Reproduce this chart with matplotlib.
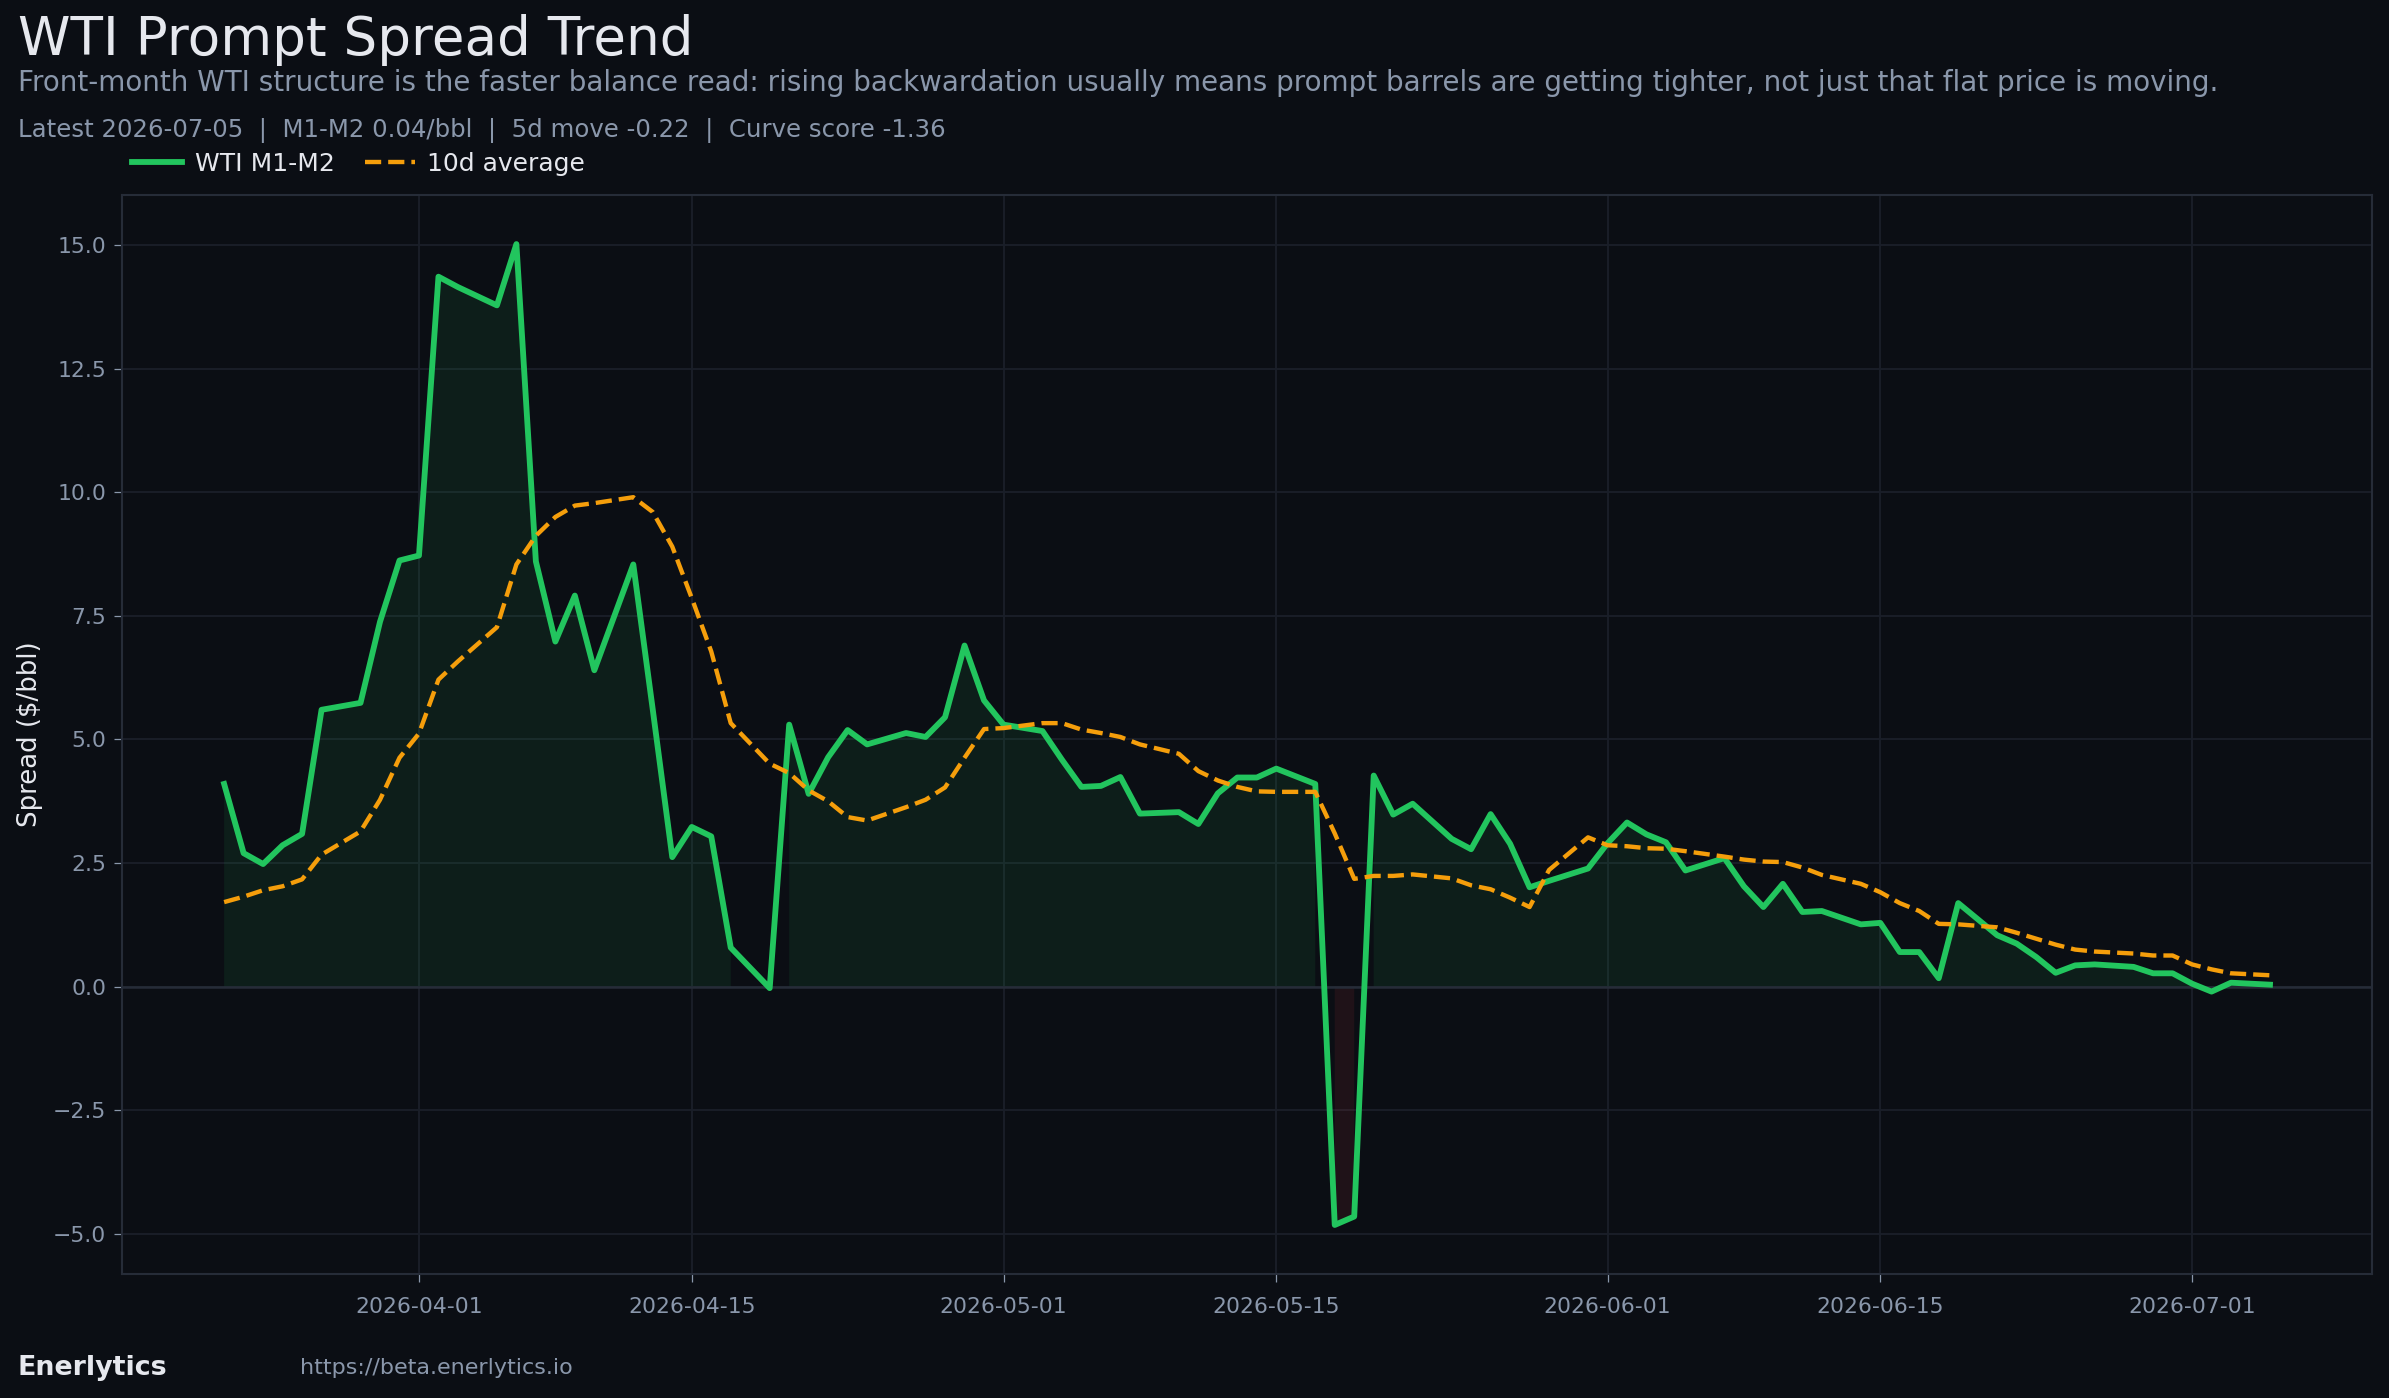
import numpy as np
import pandas as pd
import matplotlib
matplotlib.use("Agg")
import matplotlib.pyplot as plt
import matplotlib.dates as mdates
from matplotlib.ticker import MultipleLocator

# trading days per month (Saturdays are missing in the feed)
mar_days = [22, 23, 24, 25, 26, 27, 29, 30, 31]
apr_days = [1, 2, 3, 5, 6, 7, 8, 9, 10, 12, 13, 14, 15, 16, 17, 19, 20, 21, 22, 23, 24, 26, 27, 28, 29, 30]
may_days = [1, 3, 4, 5, 6, 7, 8, 10, 11, 12, 13, 14, 15, 17, 18, 19, 20, 21, 22, 24, 25, 26, 27, 28, 29, 31]
jun_days = [1, 2, 3, 4, 5, 7, 8, 9, 10, 11, 12, 14, 15, 16, 17, 18, 19, 21, 22, 23, 24, 25, 26, 28, 29, 30]
jul_days = [1, 2, 3, 5]

# WTI M1-M2 spread, $/bbl
spread_mar = [4.10, 2.70, 2.48, 2.86, 3.09, 5.60, 5.74, 7.38, 8.62]
spread_apr = [8.72, 14.36, 14.15, 13.78, 15.02, 8.60, 6.98, 7.91, 6.40, 8.54, 5.60, 2.62, 3.23,
              3.04, 0.79, -0.03, 5.30, 3.90, 4.64, 5.19, 4.90, 5.13, 5.05, 5.45, 6.90, 5.79]
spread_may = [5.30, 5.17, 4.59, 4.04, 4.06, 4.24, 3.50, 3.53, 3.29, 3.91, 4.23, 4.23, 4.41,
              4.10, -4.82, -4.65, 4.27, 3.48, 3.70, 2.99, 2.78, 3.49, 2.89, 2.01, 2.14, 2.39]
spread_jun = [2.90, 3.32, 3.08, 2.92, 2.35, 2.60, 2.03, 1.61, 2.08, 1.51, 1.53, 1.26, 1.29,
              0.70, 0.70, 0.17, 1.69, 1.04, 0.87, 0.60, 0.28, 0.43, 0.45, 0.40, 0.27, 0.27]
spread_jul = [0.06, -0.10, 0.08, 0.04]

# 10d average
avg_mar = [1.71, 1.82, 1.95, 2.03, 2.17, 2.67, 3.14, 3.78, 4.63]
avg_apr = [5.12, 6.21, 6.58, 7.27, 8.54, 9.12, 9.50, 9.73, 9.78, 9.90, 9.60, 8.90, 7.86,
           6.78, 5.33, 4.51, 4.32, 3.97, 3.75, 3.43, 3.36, 3.63, 3.78, 4.03, 4.63, 5.21]
avg_may = [5.23, 5.33, 5.33, 5.20, 5.13, 5.05, 4.90, 4.71, 4.36, 4.17, 4.04, 3.95, 3.94,
           3.94, 3.10, 2.18, 2.24, 2.24, 2.27, 2.19, 2.05, 1.97, 1.80, 1.61, 2.36, 3.02]
avg_jun = [2.86, 2.84, 2.80, 2.79, 2.74, 2.63, 2.57, 2.53, 2.52, 2.41, 2.26, 2.08, 1.91,
           1.69, 1.53, 1.27, 1.26, 1.20, 1.09, 0.97, 0.85, 0.75, 0.71, 0.67, 0.63, 0.63]
avg_jul = [0.45, 0.35, 0.27, 0.23]

BG = "#0b0e14"
GRID = "#1a1f29"
SPINE = "#262c38"
TEXT = "#e6e8ee"
MUTED = "#8a97ab"
GREEN = "#22c55e"
ORANGE = "#f59e0b"
RED = "#ef4444"

dates = []
for month, days in [(3, mar_days), (4, apr_days), (5, may_days), (6, jun_days), (7, jul_days)]:
    dates += [pd.Timestamp(2026, month, d) for d in days]
dates = pd.DatetimeIndex(dates)
spread = np.array(spread_mar + spread_apr + spread_may + spread_jun + spread_jul)
avg10 = np.array(avg_mar + avg_apr + avg_may + avg_jun + avg_jul)

fig = plt.figure(figsize=(2389 / 150, 1398 / 150), dpi=150, facecolor=BG)
ax = fig.add_axes([0.051, 0.0887, 0.942, 0.7718], facecolor=BG)

ax.fill_between(dates, spread, 0, where=spread >= 0, color=GREEN, alpha=0.09, linewidth=0)
ax.fill_between(dates, spread, 0, where=spread < 0, color=RED, alpha=0.09, linewidth=0)
ax.axhline(0, color=SPINE, linewidth=1.2, zorder=1)
ax.plot(dates, spread, color=GREEN, linewidth=2.8, label="WTI M1-M2", zorder=3)
ax.plot(dates, avg10, color=ORANGE, linewidth=2.1, linestyle="--", label="10d average", zorder=4)

ax.grid(True, color=GRID, linewidth=0.9)
ax.set_axisbelow(True)
for s in ax.spines.values():
    s.set_color(SPINE)
    s.set_linewidth(1.0)

ax.xaxis.set_major_locator(mdates.DayLocator(bymonthday=[1, 15]))
ax.xaxis.set_major_formatter(mdates.DateFormatter("%Y-%m-%d"))
ax.yaxis.set_major_locator(MultipleLocator(2.5))
ax.tick_params(colors=MUTED, labelsize=10.5, length=4, width=0.6)
ax.tick_params(axis="x", pad=7)
ax.set_ylabel("Spread ($/bbl)", color=TEXT, fontsize=12.5, labelpad=5)

fig.text(0.0075, 0.9715, "WTI Prompt Spread Trend", color=TEXT, fontsize=25.5, va="center", ha="left")
fig.text(0.0075, 0.9405,
         "Front-month WTI structure is the faster balance read: rising backwardation usually means "
         "prompt barrels are getting tighter, not just that flat price is moving.",
         color=MUTED, fontsize=13.3, va="center", ha="left")
fig.text(0.0075, 0.907,
         "Latest 2026-07-05  |  M1-M2 0.04/bbl  |  5d move -0.22  |  Curve score -1.36",
         color=MUTED, fontsize=11.7, va="center", ha="left")

leg = fig.legend(loc="center left", bbox_to_anchor=(0.046, 0.883), ncol=2, frameon=False,
                 fontsize=12, handlelength=2.0, columnspacing=1.2, handletextpad=0.5)
for t in leg.get_texts():
    t.set_color(TEXT)

fig.text(0.0075, 0.0214, "Enerlytics", color=TEXT, fontsize=12.9, fontweight="bold", va="center", ha="left")
fig.text(0.1255, 0.0214, "https://beta.enerlytics.io", color=MUTED, fontsize=10.7, va="center", ha="left")

fig.savefig("out.png", dpi=150, facecolor=BG)
